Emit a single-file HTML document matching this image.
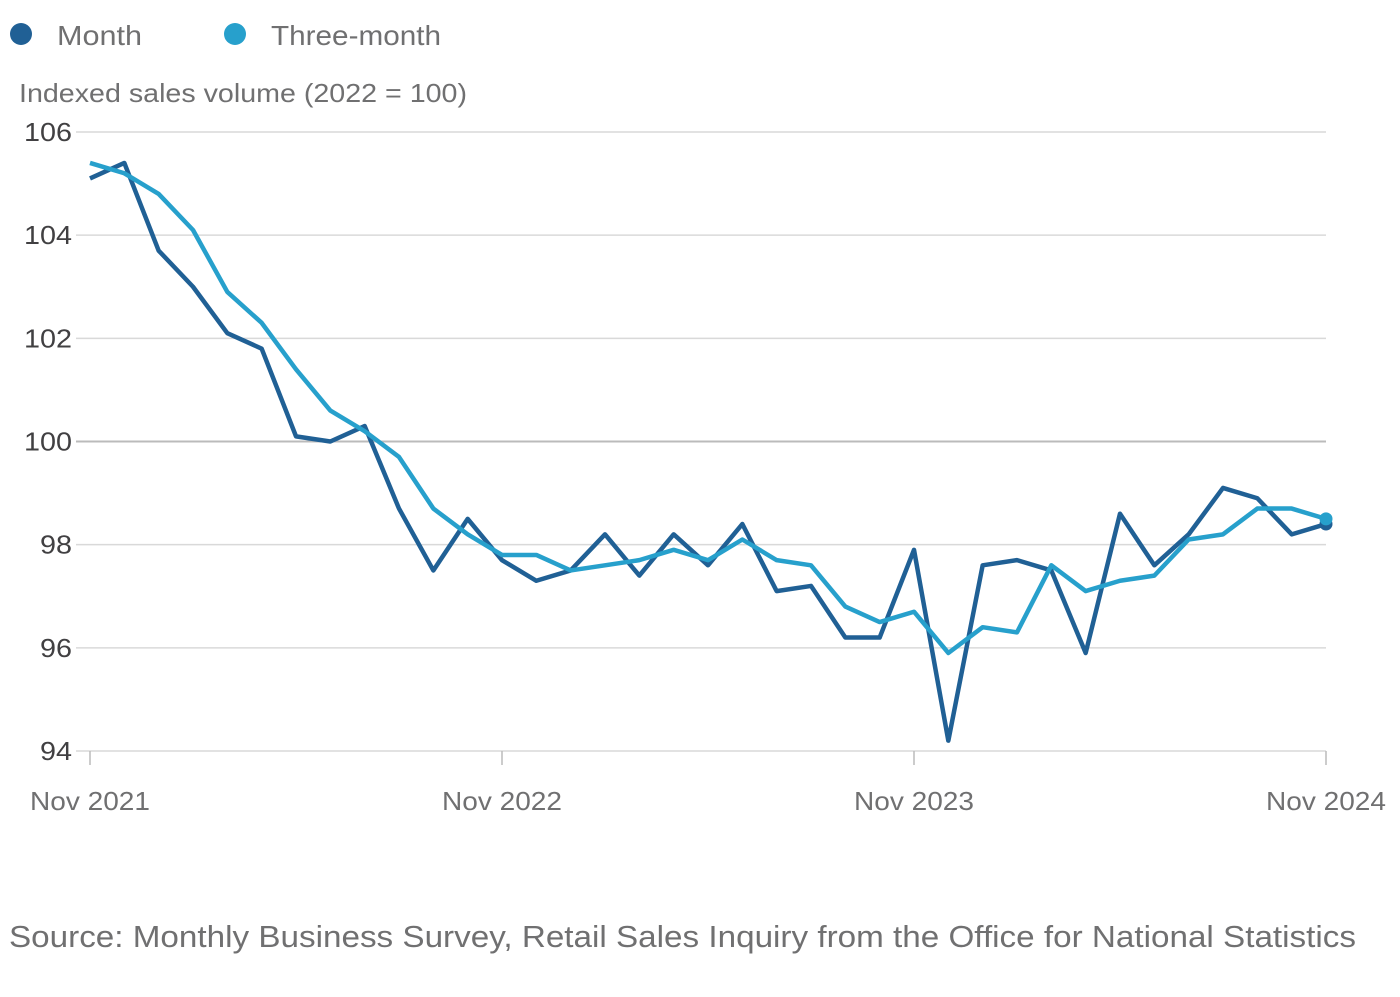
<!DOCTYPE html>
<html><head><meta charset="utf-8">
<style>
body{margin:0;background:#fff;font-family:"Liberation Sans",sans-serif;}
svg text{font-family:"Liberation Sans",sans-serif;}
</style></head>
<body>
<svg id="chart" width="1400" height="992" xmlns="http://www.w3.org/2000/svg">
<g>
 <g><circle cx="21" cy="34" r="11" fill="#206095"/><text x="57" y="45" font-size="28" fill="#707071" textLength="85" lengthAdjust="spacingAndGlyphs">Month</text></g>
 <g><circle cx="235" cy="34" r="11" fill="#27a0cc"/><text x="271" y="45" font-size="28" fill="#707071" textLength="170" lengthAdjust="spacingAndGlyphs">Three-month</text></g>
</g>
<text x="19" y="102" font-size="26" fill="#707071" textLength="448" lengthAdjust="spacingAndGlyphs">Indexed sales volume (2022 = 100)</text>
<g id="grid"></g><g id="series"></g>
<text x="9" y="947" font-size="31" fill="#707071" textLength="1347" lengthAdjust="spacingAndGlyphs">Source: Monthly Business Survey, Retail Sales Inquiry from the Office for National Statistics</text>
</svg>
<script>
const monthValues=[105.1,105.4,103.7,103.0,102.1,101.8,100.1,100.0,100.3,98.7,97.5,98.5,97.7,97.3,97.5,98.2,97.4,98.2,97.6,98.4,97.1,97.2,96.2,96.2,97.9,94.2,97.6,97.7,97.5,95.9,98.6,97.6,98.2,99.1,98.9,98.2,98.4];
const threeMonthValues=[105.4,105.2,104.8,104.1,102.9,102.3,101.4,100.6,100.2,99.7,98.7,98.2,97.8,97.8,97.5,97.6,97.7,97.9,97.7,98.1,97.7,97.6,96.8,96.5,96.7,95.9,96.4,96.3,97.6,97.1,97.3,97.4,98.1,98.2,98.7,98.7,98.5];
const yTicks=[94,96,98,100,102,104,106];
const xTickLabels=["Nov 2021","Nov 2022","Nov 2023","Nov 2024"];
const xTickIndex=[0,12,24,36];
const NS="http://www.w3.org/2000/svg";
const x=i=>90+i*(1326-90)/36;
const y=v=>751-(v-94)*(751-132)/12;
const grid=document.getElementById('grid'),series=document.getElementById('series');
function mk(t,a,p){const e=document.createElementNS(NS,t);for(const k in a)e.setAttribute(k,a[k]);p.appendChild(e);return e;}
yTicks.forEach(v=>{
 const l=mk('line',{x1:76,x2:1326,y1:y(v),y2:y(v),stroke:v===100?'#bbb':'#d9d9d9','stroke-width':v===100?2:1.5},grid);
 
 
 const t=mk('text',{x:72,y:y(v)+9,'text-anchor':'end','font-size':26,fill:'#414042',textLength:String(v).length*16,lengthAdjust:'spacingAndGlyphs'},grid);
 t.textContent=v;
 
 
});
xTickIndex.forEach((i,k)=>{
 const l=mk('line',{x1:x(i),x2:x(i),y1:751,y2:765,stroke:'#bbb','stroke-width':1.5},grid);
 
 
 const t=mk('text',{x:x(i),y:810,'text-anchor':'middle','font-size':26,fill:'#707071',textLength:120,lengthAdjust:'spacingAndGlyphs'},grid);
 t.textContent=xTickLabels[k];
 
 
});
function draw(vals,color,name){
 const p=mk('polyline',{points:vals.map((v,i)=>x(i)+','+y(v)).join(' '),fill:'none',stroke:color,'stroke-width':4.5,'stroke-linejoin':'round'},series);
 
 
 const n=vals.length-1;
 const c=mk('circle',{cx:x(n),cy:y(vals[n]),r:6.5,fill:color},series);
 
 
}
draw(monthValues,'#206095','month');
draw(threeMonthValues,'#27a0cc','three-month');
</script>
</body></html>
